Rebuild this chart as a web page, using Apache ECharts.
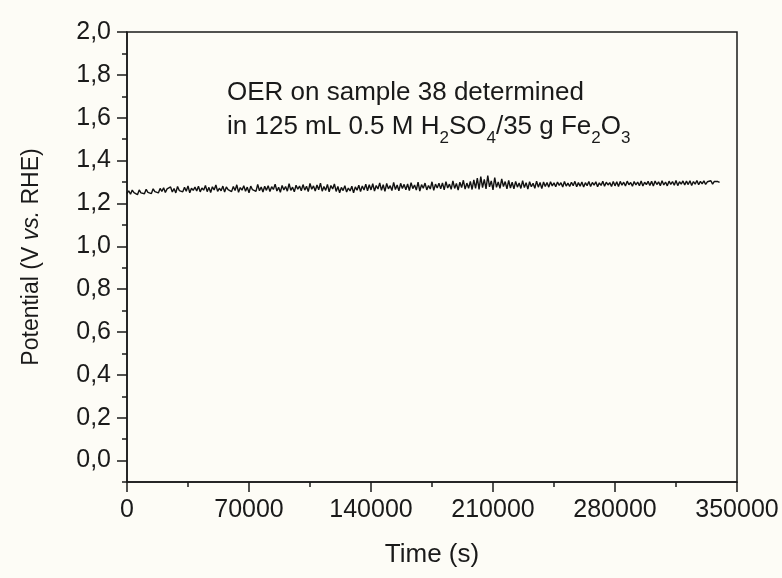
<!DOCTYPE html>
<html>
<head>
<meta charset="utf-8">
<script src="https://cdn.jsdelivr.net/npm/echarts@6/dist/echarts.min.js"></script>
<style>
  html, body { margin: 0; padding: 0; background: #fdfcf6; }
  #chart { width: 782px; height: 578px; }
</style>
</head>
<body>
<div id="chart"></div>
<script>
// potential readings, sampled every 1000 s from t = 0
var timeStep = 1000;
var potential = [
  1.247,1.259,1.243,1.262,1.250,1.256,1.241,1.263,1.249,1.258,1.245,1.266,1.252,1.260,1.246,1.268,1.255,1.262,1.249,1.270,
  1.256,1.273,1.251,1.268,1.259,1.277,1.253,1.270,1.249,1.279,1.260,1.267,1.254,1.275,1.257,1.282,1.250,1.271,1.261,1.276,
  1.258,1.280,1.254,1.272,1.262,1.284,1.255,1.275,1.251,1.278,1.263,1.286,1.256,1.271,1.259,1.281,1.253,1.277,1.264,1.273,
  1.255,1.279,1.260,1.287,1.252,1.274,1.262,1.283,1.257,1.276,1.250,1.281,1.264,1.272,1.256,1.289,1.259,1.277,1.253,1.280,
  1.261,1.283,1.256,1.278,1.265,1.290,1.258,1.275,1.252,1.284,1.263,1.279,1.257,1.292,1.261,1.276,1.254,1.285,1.266,1.281,
  1.259,1.288,1.262,1.280,1.255,1.293,1.266,1.282,1.258,1.286,1.264,1.295,1.257,1.279,1.261,1.289,1.254,1.284,1.267,1.291,
  1.256,1.279,1.250,1.275,1.260,1.283,1.253,1.272,1.258,1.280,1.249,1.277,1.262,1.285,1.255,1.281,1.263,1.290,1.259,1.287,
  1.263,1.292,1.258,1.284,1.267,1.296,1.261,1.287,1.256,1.293,1.268,1.283,1.260,1.298,1.265,1.286,1.259,1.294,1.270,1.289,
  1.264,1.291,1.260,1.297,1.269,1.286,1.262,1.299,1.258,1.288,1.271,1.295,1.263,1.284,1.267,1.301,1.261,1.290,1.272,1.294,
  1.268,1.296,1.263,1.302,1.272,1.290,1.266,1.305,1.270,1.293,1.262,1.299,1.274,1.308,1.267,1.295,1.271,1.303,1.265,1.310,
  1.270,1.318,1.266,1.325,1.274,1.312,1.268,1.330,1.277,1.305,1.263,1.321,1.275,1.300,1.270,1.314,1.279,1.302,1.268,1.308,
  1.272,1.299,1.268,1.303,1.276,1.295,1.270,1.306,1.274,1.297,1.267,1.301,1.278,1.294,1.271,1.304,1.276,1.298,1.269,1.300,
  1.279,1.298,1.276,1.301,1.282,1.296,1.278,1.300,1.284,1.297,1.277,1.302,1.281,1.295,1.279,1.299,1.283,1.303,1.278,1.297,
  1.280,1.300,1.277,1.297,1.283,1.302,1.279,1.298,1.285,1.301,1.278,1.296,1.284,1.303,1.280,1.299,1.286,1.297,1.279,1.302,
  1.282,1.301,1.279,1.303,1.285,1.299,1.281,1.304,1.287,1.298,1.280,1.302,1.286,1.300,1.283,1.305,1.281,1.299,1.288,1.303,
  1.284,1.303,1.281,1.305,1.288,1.301,1.283,1.306,1.286,1.300,1.282,1.304,1.289,1.302,1.285,1.307,1.283,1.301,1.290,1.305,
  1.286,1.304,1.288,1.306,1.284,1.302,1.290,1.307,1.287,1.303,1.291,1.305,1.289,1.301,1.292,1.306,1.290,1.303,1.294,1.302,
  1.298
];
var yMajorTicks = [0, 0.2, 0.4, 0.6, 0.8, 1.0, 1.2, 1.4, 1.6, 1.8, 2.0];
var yMinorTicks = [-0.1, 0.1, 0.3, 0.5, 0.7, 0.9, 1.1, 1.3, 1.5, 1.7, 1.9];

var seriesData = [];
for (var i = 0; i < potential.length; i++) {
  seriesData.push([i * timeStep, potential[i]]);
}

var font = 'Liberation Sans, Arial, sans-serif';
var ink = '#1a1a1a';

var myChart = echarts.init(document.getElementById('chart'));
var option = {
  backgroundColor: '#fdfcf6',
  animation: false,
  grid: {
    left: 127, right: 45, top: 32, bottom: 96,
    show: true, borderColor: ink, borderWidth: 1.5
  },
  xAxis: {
    type: 'value',
    min: 0, max: 350000, interval: 70000,
    name: 'Time (s)',
    nameLocation: 'middle',
    nameGap: 60,
    nameTextStyle: { fontFamily: font, fontSize: 26, color: ink },
    axisLine: { onZero: false, lineStyle: { color: ink, width: 1.5 } },
    axisTick: { show: true, inside: false, length: 10, lineStyle: { color: ink, width: 1.5 } },
    minorTick: { show: true, splitNumber: 2, length: 5, lineStyle: { color: ink, width: 1.5 } },
    axisLabel: {
      fontFamily: font, fontSize: 25, color: ink, margin: 16,
      formatter: function (v) { return String(v); }
    },
    splitLine: { show: false }
  },
  yAxis: [{
    type: 'value',
    min: -0.1, max: 2.0,
    name: '{a|Potential (V }{i|vs.}{a| RHE)}',
    nameLocation: 'middle',
    nameGap: 84,
    nameRotate: 90,
    nameTextStyle: {
      rich: {
        a: { fontFamily: font, fontSize: 23, color: ink },
        i: { fontFamily: font, fontSize: 23, color: ink, fontStyle: 'italic' }
      }
    },
    axisLine: { show: true, onZero: false, lineStyle: { color: ink, width: 1.5 } },
    axisTick: { show: true, length: 10, customValues: yMajorTicks, lineStyle: { color: ink, width: 1.5 } },
    axisLabel: {
      fontFamily: font, fontSize: 25, color: ink, margin: 16,
      customValues: yMajorTicks,
      formatter: function (v) { return v.toFixed(1).replace('.', ','); }
    },
    splitLine: { show: false }
  }, {
    type: 'value',
    position: 'left',
    min: -0.1, max: 2.0,
    axisLine: { show: false, onZero: false },
    axisTick: { show: true, length: 5, customValues: yMinorTicks, lineStyle: { color: ink, width: 1.5 } },
    axisLabel: { show: false },
    splitLine: { show: false }
  }],
  graphic: [{
    type: 'text',
    left: 227, top: 80,
    style: {
      text: 'OER on sample 38 determined',
      font: '26px ' + font,
      fill: ink
    }
  }, {
    type: 'text',
    left: 227, top: 114,
    style: {
      text: '{a|in 125 mL 0.5 M H}{s|2}{a|SO}{s|4}{a|/35 g Fe}{s|2}{a|O}{s|3}',
      rich: {
        a: { font: '26px ' + font, fill: ink, verticalAlign: 'bottom' },
        s: { font: '17px ' + font, fill: ink, padding: [0, 0, -7, 0], verticalAlign: 'bottom' }
      }
    }
  }],
  series: [{
    type: 'line',
    data: seriesData,
    showSymbol: false,
    lineStyle: { color: '#111', width: 1.4 }
  }]
};
myChart.setOption(option);
</script>
</body>
</html>
